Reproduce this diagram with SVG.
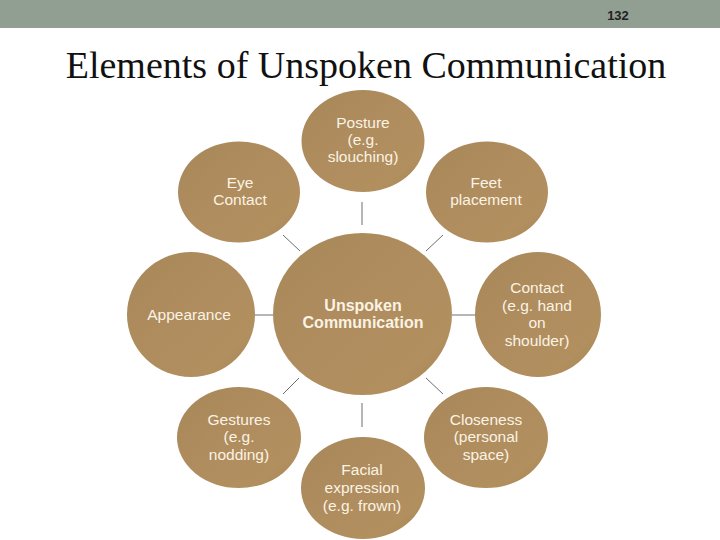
<svg xmlns="http://www.w3.org/2000/svg" width="720" height="540" viewBox="0 0 720 540">
<defs>
<linearGradient id="g" x1="0" y1="0" x2="1" y2="1">
<stop offset="0" stop-color="#A8875A"/>
<stop offset="0.5" stop-color="#AF8D5E"/>
<stop offset="0.8" stop-color="#B28F5F"/>
<stop offset="1" stop-color="#A4834F"/>
</linearGradient>
<style>
.n{fill:url(#g);}
.t{font-family:"Liberation Sans",Arial,sans-serif;font-size:15.5px;fill:#FBF3E4;text-anchor:middle;}
.b{font-weight:bold;font-size:16px;}
.c{stroke:#6E6E6E;stroke-width:1;fill:none;}
</style>
</defs>
<rect x="0" y="0" width="720" height="540" fill="#FFFFFF"/>
<rect x="0" y="0" width="720" height="28" fill="#919F93"/>
<text x="618" y="20" font-family="Liberation Sans,Arial,sans-serif" font-size="13" font-weight="bold" fill="#222222" text-anchor="middle">132</text>
<text x="366" y="78" font-family="Liberation Serif,'Times New Roman',serif" font-size="38" fill="#111111" text-anchor="middle">Elements of Unspoken Communication</text>
<g id="connectors">
<line class="c" x1="362" y1="202" x2="362" y2="225"/>
<line class="c" x1="283" y1="235" x2="300" y2="251"/>
<line class="c" x1="443" y1="235" x2="426" y2="251"/>
<line class="c" x1="255" y1="315" x2="273" y2="315"/>
<line class="c" x1="452" y1="315" x2="475" y2="315"/>
<line class="c" x1="299" y1="378" x2="283" y2="394"/>
<line class="c" x1="426" y1="378" x2="443" y2="394"/>
<line class="c" x1="362" y1="403" x2="362" y2="427"/>
</g>
<g id="center">
<ellipse class="n" cx="362.5" cy="314" rx="89.5" ry="81"/>
<text class="t b" x="363" y="311">Unspoken</text>
<text class="t b" x="363" y="328">Communication</text>
</g>
<g id="posture">
<ellipse class="n" cx="363" cy="141" rx="61.5" ry="51"/>
<text class="t" x="363" y="128">Posture</text>
<text class="t" x="363" y="145">(e.g.</text>
<text class="t" x="363" y="162">slouching)</text>
</g>
<g id="eye">
<ellipse class="n" cx="239" cy="192" rx="61" ry="50.5"/>
<text class="t" x="240" y="188">Eye</text>
<text class="t" x="240" y="205">Contact</text>
</g>
<g id="feet">
<ellipse class="n" cx="487" cy="192" rx="61" ry="50.5"/>
<text class="t" x="486" y="188">Feet</text>
<text class="t" x="486" y="205">placement</text>
</g>
<g id="appearance">
<ellipse class="n" cx="191" cy="314.5" rx="64" ry="62.5"/>
<text class="t" x="189" y="320">Appearance</text>
</g>
<g id="contact">
<ellipse class="n" cx="538" cy="314.5" rx="63" ry="62.5"/>
<text class="t" x="537" y="293">Contact</text>
<text class="t" x="537" y="311">(e.g. hand</text>
<text class="t" x="537" y="328">on</text>
<text class="t" x="537" y="346">shoulder)</text>
</g>
<g id="gestures">
<ellipse class="n" cx="239" cy="437.5" rx="62" ry="50.5"/>
<text class="t" x="239" y="425">Gestures</text>
<text class="t" x="239" y="442">(e.g.</text>
<text class="t" x="239" y="460">nodding)</text>
</g>
<g id="closeness">
<ellipse class="n" cx="486" cy="437.5" rx="62" ry="50.5"/>
<text class="t" x="486" y="425">Closeness</text>
<text class="t" x="486" y="442">(personal</text>
<text class="t" x="486" y="460">space)</text>
</g>
<g id="facial">
<ellipse class="n" cx="363" cy="488" rx="62" ry="51"/>
<text class="t" x="362" y="475">Facial</text>
<text class="t" x="362" y="493">expression</text>
<text class="t" x="362" y="511">(e.g. frown)</text>
</g>
</svg>
